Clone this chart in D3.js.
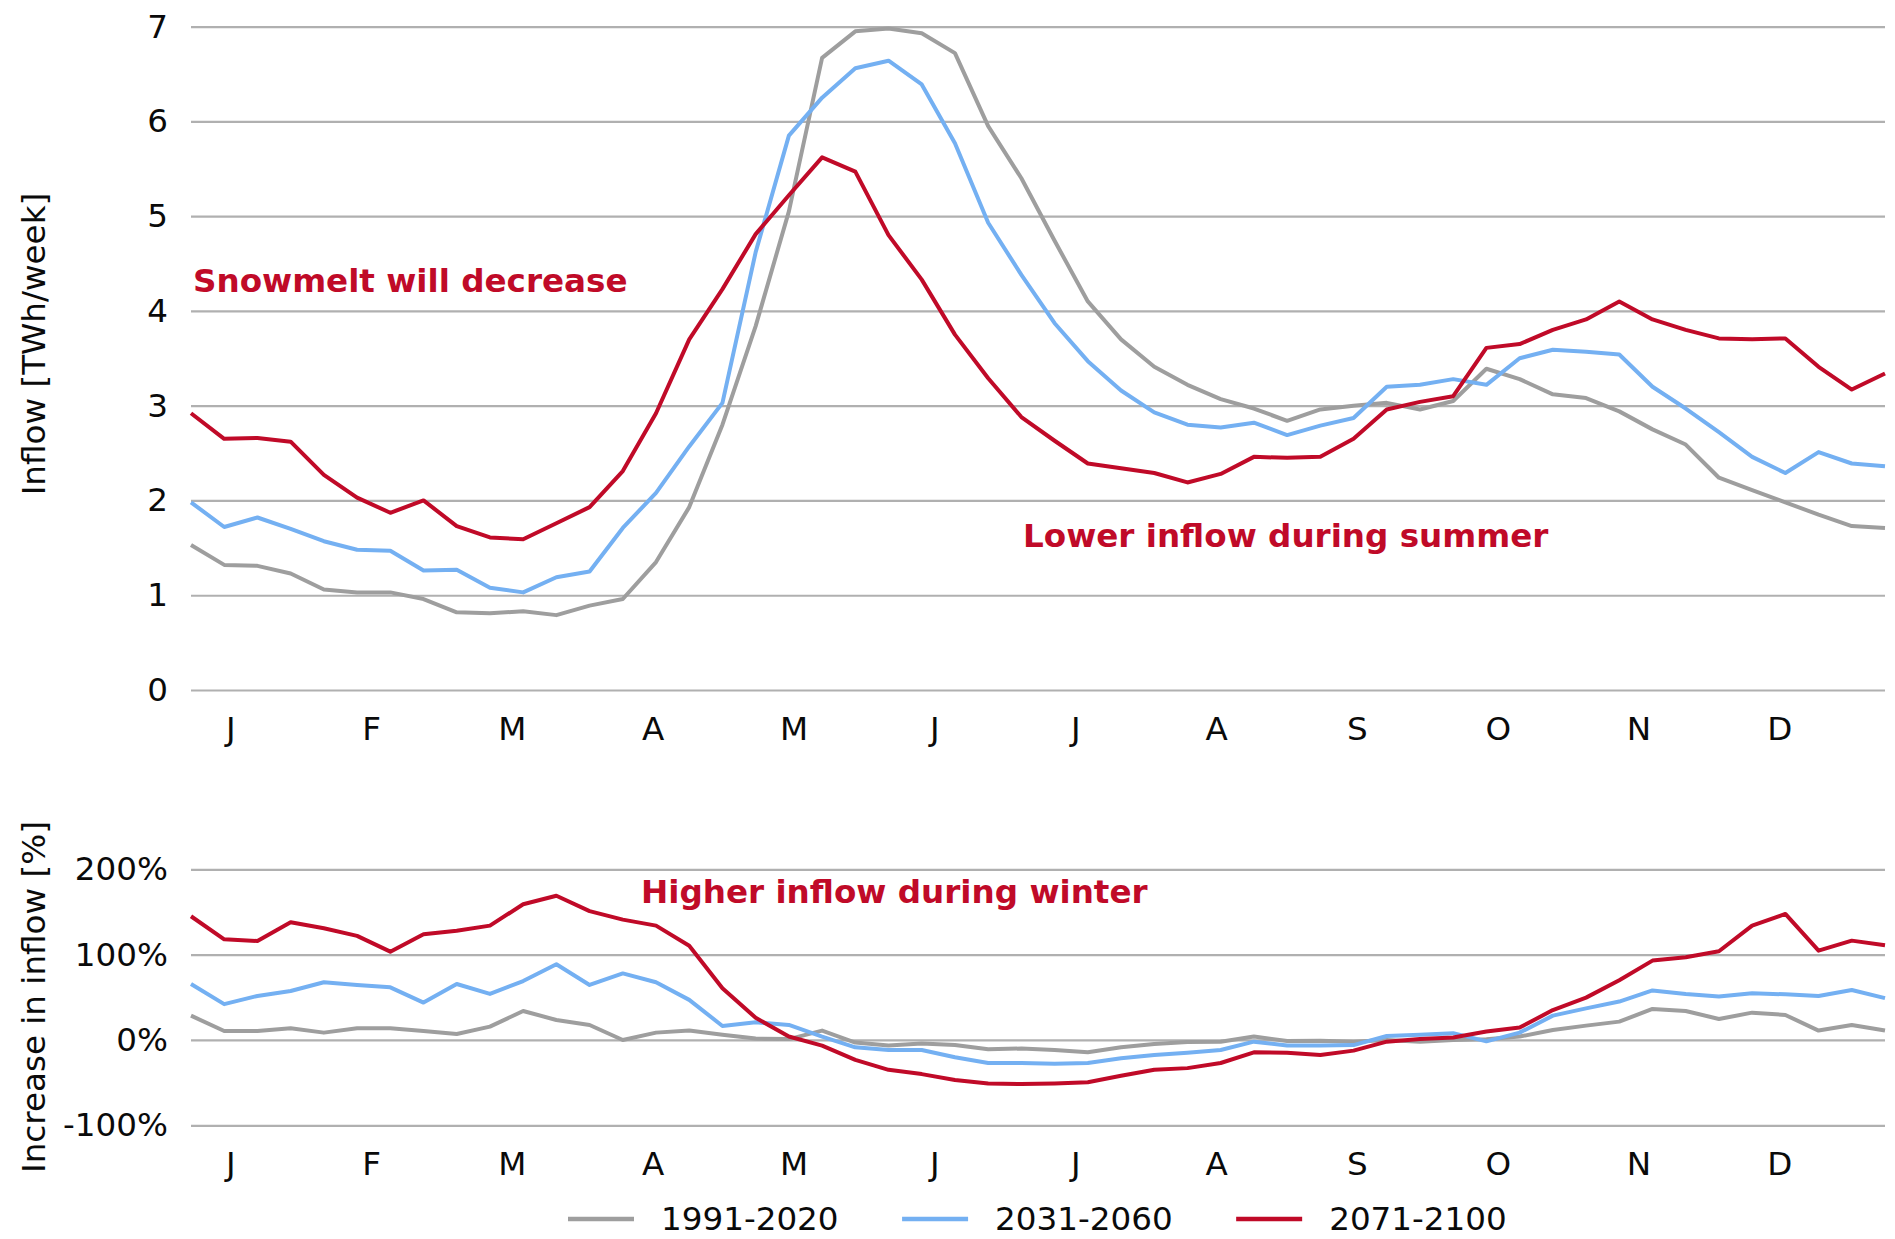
<!DOCTYPE html>
<html>
<head>
<meta charset="utf-8">
<script src="https://cdn.jsdelivr.net/npm/d3@7"></script>
<style>
  body { margin: 0; background: #fff; }
  svg text { font-family: "DejaVu Sans", sans-serif; }
</style>
</head>
<body>
<svg width="1895" height="1239"></svg>
<script>
// Week numbers and month tick labels
const weeks = d3.range(1, 53);
const monthLabels = ["J", "F", "M", "A", "M", "J", "J", "A", "S", "O", "N", "D"];
const monthTicks = [2.18, 6.42, 10.66, 14.9, 19.14, 23.38, 27.62, 31.86, 36.1, 40.34, 44.58, 48.82];
const inflowTicks = [0, 1, 2, 3, 4, 5, 6, 7];
const changeTicks = [-100, 0, 100, 200];
const periods = ["1991-2020", "2031-2060", "2071-2100"];

// Weekly inflow [TWh/week]
const inflow1991 = [1.53, 1.32, 1.31, 1.23, 1.06, 1.03, 1.03, 0.96, 0.82, 0.81, 0.83, 0.79, 0.89, 0.96, 1.35, 1.93, 2.80, 3.84, 5.05, 6.67, 6.95, 6.98, 6.93, 6.72, 5.95, 5.40, 4.74, 4.10, 3.70, 3.41, 3.22, 3.07, 2.97, 2.84, 2.96, 3.00, 3.03, 2.96, 3.05, 3.39, 3.28, 3.12, 3.08, 2.94, 2.75, 2.59, 2.24, 2.11, 1.98, 1.85, 1.73, 1.71];
const inflow2031 = [1.98, 1.72, 1.82, 1.70, 1.57, 1.48, 1.47, 1.26, 1.27, 1.08, 1.03, 1.19, 1.25, 1.71, 2.08, 2.57, 3.03, 4.62, 5.85, 6.25, 6.56, 6.64, 6.39, 5.77, 4.93, 4.38, 3.87, 3.47, 3.16, 2.93, 2.80, 2.77, 2.82, 2.69, 2.79, 2.87, 3.20, 3.22, 3.28, 3.22, 3.50, 3.59, 3.57, 3.54, 3.20, 2.97, 2.72, 2.46, 2.29, 2.51, 2.39, 2.36];
const inflow2071 = [2.92, 2.65, 2.66, 2.62, 2.27, 2.03, 1.87, 2.00, 1.73, 1.61, 1.59, 1.76, 1.93, 2.31, 2.92, 3.70, 4.23, 4.81, 5.22, 5.62, 5.47, 4.80, 4.33, 3.75, 3.29, 2.88, 2.63, 2.39, 2.34, 2.29, 2.19, 2.28, 2.46, 2.45, 2.46, 2.65, 2.96, 3.04, 3.10, 3.61, 3.65, 3.80, 3.91, 4.10, 3.91, 3.80, 3.71, 3.70, 3.71, 3.41, 3.17, 3.34];

// Increase in inflow [%]
const change1991 = [28.5, 10.5, 10.5, 13.7, 8.6, 13.7, 13.7, 10.5, 7, 15.6, 34, 23.4, 17.6, 0, 8.6, 11, 6, 1.6, 1, 11, -3, -6.6, -4, -6, -11, -10, -11.7, -14.5, -8.6, -4.7, -2.3, -2, 4, -1.2, -0.8, -2, 0, -2, 0, 0.8, 4, 11.7, 16.8, 21.5, 36.3, 34, 24.6, 32, 29.3, 11, 17.6, 11];
const change2031 = [65.6, 42, 51.6, 57.4, 67.6, 64.5, 61.7, 43.8, 65.6, 54, 69, 88.7, 64.5, 78, 67.6, 47, 16.4, 20.7, 17.6, 4, -8.6, -11.7, -11.7, -20.3, -27, -27, -28, -27, -21.5, -17.6, -15, -11.7, -2, -6.6, -6.6, -6, 4.7, 6, 8, -1.6, 8.6, 28.5, 37, 45, 58, 54, 51, 54.7, 53.5, 51.6, 58.6, 49];
const change2071 = [145, 118, 116, 138, 131, 122, 103.5, 124, 128, 134, 159, 169, 151, 141, 134, 110.5, 60.5, 26, 4, -6.6, -23.4, -35, -40, -47, -51, -51.6, -51, -49.6, -42, -35, -33, -27, -14.5, -15, -17.6, -12.5, -2, 1, 3, 10, 14.5, 35, 49.6, 70, 93, 97, 104, 134, 147.7, 104.7, 116.4, 111];

const colors = ["#9e9e9e", "#74b0f2", "#c00a28"];
const fontSize = 32.6;

const svg = d3.select("svg");
const left = 191, right = 1885;

// Scales
const x = d3.scaleLinear().domain([1, 52]).range([left, right]);
const yTop = d3.scaleLinear().domain([0, 7]).range([690, 26.6]);
const yBot = d3.scaleLinear().domain([-100, 200]).range([1125.3, 869.3]);

function styleAxis(g) {
    g.attr("font-size", fontSize).attr("font-family", "DejaVu Sans").attr("color", "#0a0a0a");
    g.select(".domain").remove();
    g.selectAll(".tick line").attr("stroke", "#b0b0b0").attr("stroke-width", 2.2);
}

// Y axes with gridlines
svg.append("g")
    .attr("transform", `translate(${left},0)`)
    .call(d3.axisLeft(yTop).tickValues(inflowTicks).tickSize(-(right - left)).tickPadding(23).tickFormat(d => d))
    .call(styleAxis);

svg.append("g")
    .attr("transform", `translate(${left},0)`)
    .call(d3.axisLeft(yBot).tickValues(changeTicks).tickSize(-(right - left)).tickPadding(23).tickFormat(d => d + "%"))
    .call(styleAxis);

// Month axes
svg.append("g")
    .attr("transform", `translate(0,${yTop(0)})`)
    .call(d3.axisBottom(x).tickValues(monthTicks).tickSize(0).tickPadding(27).tickFormat((d, i) => monthLabels[i]))
    .call(styleAxis);

svg.append("g")
    .attr("transform", `translate(0,${yBot(-100)})`)
    .call(d3.axisBottom(x).tickValues(monthTicks).tickSize(0).tickPadding(27).tickFormat((d, i) => monthLabels[i]))
    .call(styleAxis);

// Lines
const topLine = d3.line().x((d, i) => x(weeks[i])).y(d => yTop(d));
const botLine = d3.line().x((d, i) => x(weeks[i])).y(d => yBot(d));

[inflow1991, inflow2031, inflow2071].forEach((s, k) => {
    svg.append("path").datum(s)
        .attr("d", topLine)
        .attr("fill", "none")
        .attr("stroke", colors[k])
        .attr("stroke-width", 4)
        .attr("stroke-linejoin", "round");
});

[change1991, change2031, change2071].forEach((s, k) => {
    svg.append("path").datum(s)
        .attr("d", botLine)
        .attr("fill", "none")
        .attr("stroke", colors[k])
        .attr("stroke-width", 4)
        .attr("stroke-linejoin", "round");
});

// Annotations
const notes = [
    { text: "Snowmelt will decrease", x: 193, y: 292 },
    { text: "Lower inflow during summer", x: 1023, y: 547 },
    { text: "Higher inflow during winter", x: 641, y: 903 }
];
svg.selectAll(".note")
    .data(notes)
    .enter()
    .append("text")
    .attr("x", d => d.x)
    .attr("y", d => d.y)
    .attr("font-size", fontSize)
    .attr("font-weight", "bold")
    .attr("fill", colors[2])
    .text(d => d.text);

// Y-axis labels
svg.append("text")
    .attr("transform", "translate(45,344) rotate(-90)")
    .attr("text-anchor", "middle")
    .attr("font-size", fontSize)
    .attr("fill", "#0a0a0a")
    .text("Inflow [TWh/week]");

svg.append("text")
    .attr("transform", "translate(45,997) rotate(-90)")
    .attr("text-anchor", "middle")
    .attr("font-size", fontSize)
    .attr("fill", "#0a0a0a")
    .text("Increase in inflow [%]");

// Legend
const legend = svg.append("g");
const gap = 63.5;
let lx = 0;
periods.forEach((p, k) => {
    const item = legend.append("g").attr("transform", `translate(${lx},0)`);
    item.append("line")
        .attr("x1", 0).attr("x2", 66)
        .attr("y1", -11).attr("y2", -11)
        .attr("stroke", colors[k])
        .attr("stroke-width", 4.5);
    const t = item.append("text")
        .attr("x", 93)
        .attr("font-size", fontSize)
        .attr("fill", "#0a0a0a")
        .text(p);
    lx += 93 + t.node().getComputedTextLength() + gap;
});
legend.attr("transform", "translate(568,1230)");
</script>
</body>
</html>
